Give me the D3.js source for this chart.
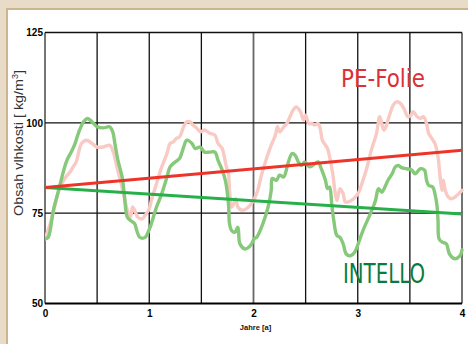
<!DOCTYPE html>
<html><head><meta charset="utf-8">
<script src="https://cdn.jsdelivr.net/npm/d3@7"></script>
<style>html,body{margin:0;padding:0;background:#e8dcc8;}svg{display:block;}</style>
</head><body>
<svg id="c" width="468" height="344"></svg>
<script>
// Data
const xTicks = [0, 1, 2, 3, 4];
const yTicks = [50, 75, 100, 125];
const xLabel = "Jahre [a]";
const seriesNames = ["PE-Folie", "INTELLO"];

const peT = [0,0.05,0.10,0.14,0.19,0.24,0.27,0.30,0.32,0.35,0.40,0.45,0.50,0.56,0.62,0.66,0.69,0.73,0.76,0.79,0.82,0.84,0.86,0.89,0.93,0.96,1.00,
  1.02,1.07,1.12,1.17,1.20,1.23,1.26,1.29,1.33,1.36,1.39,1.42,1.46,1.49,1.53,1.58,1.63,1.66,1.70,1.72,1.74,1.76,1.77,1.79,1.81,1.83,1.85,1.89,1.93,1.98,
  2.03,2.08,2.13,2.17,2.21,2.23,2.25,2.29,2.32,2.35,2.38,2.41,2.45,2.48,2.50,2.53,2.56,2.59,2.62,2.64,2.66,2.69,2.71,2.73,2.76,2.78,2.80,2.83,2.86,2.88,2.91,2.96,3.01,
  3.04,3.09,3.13,3.18,3.21,3.23,3.25,3.27,3.29,3.31,3.34,3.37,3.41,3.45,3.48,3.51,3.53,3.57,3.60,3.63,3.66,3.68,3.71,3.74,3.77,3.79,3.81,3.82,3.84,3.87,3.90,3.93,3.97,4.00];
const peV = [67.9,72.1,77.6,81.8,84.6,86.4,87.8,89.2,91.5,94.3,95.2,94.3,93.3,93.3,93.8,91.5,87.8,83.2,79.4,75.8,73.9,76.7,75.8,73.9,73.4,74.4,76.2,
  78.5,83.2,87.8,91.5,94.3,94.7,95.7,96.1,98.9,100.3,100.3,99.4,98.4,97.5,98.0,97.1,96.6,94.3,92.9,90.6,87.8,85.9,81.3,76.7,77.6,79.0,76.7,75.8,76.2,77.6,
  80.4,85.9,90.6,93.8,96.6,98.9,97.5,98.9,99.8,101.7,103.5,104.4,103.1,100.8,102.1,99.8,99.8,99.4,99.8,98.4,95.2,93.8,92.9,90.6,85.9,81.3,78.5,81.8,80.4,78.1,78.1,79.0,80.8,
  83.2,87.8,92.4,97.1,101.7,99.8,98.0,98.9,100.8,102.6,104.9,105.8,105.4,103.5,101.7,102.1,103.1,101.7,101.2,101.7,99.8,97.1,95.7,94.3,90.6,85.0,81.3,84.1,81.3,79.4,79.0,79.4,80.4,81.3];

const intT = [0,0.03,0.08,0.13,0.18,0.21,0.26,0.29,0.32,0.37,0.41,0.45,0.50,0.56,0.62,0.65,0.67,0.70,0.74,0.76,0.79,0.82,0.86,0.88,0.91,0.96,1.00,
  1.02,1.07,1.12,1.17,1.20,1.25,1.29,1.33,1.36,1.41,1.44,1.49,1.53,1.58,1.63,1.66,1.70,1.73,1.76,1.77,1.79,1.82,1.85,1.87,1.92,1.97,2.01,
  2.03,2.09,2.14,2.17,2.18,2.22,2.25,2.29,2.31,2.33,2.37,2.40,2.43,2.46,2.49,2.54,2.59,2.62,2.65,2.69,2.71,2.73,2.75,2.77,2.80,2.83,2.86,2.89,2.93,2.97,3.01,
  3.05,3.12,3.17,3.19,3.20,3.23,3.26,3.29,3.33,3.36,3.39,3.42,3.47,3.52,3.55,3.60,3.64,3.66,3.68,3.72,3.74,3.76,3.77,3.78,3.81,3.85,3.88,3.93,3.98,4.00];
const intV = [67.9,68.3,75.8,81.3,86.9,89.6,92.4,94.4,97.1,100.3,101.2,100.3,98.9,98.6,98.9,97.5,94.3,89.6,85.0,80.4,73.9,73.0,72.1,70.2,68.3,68.3,70.5,
  72.1,76.7,80.4,85.0,87.8,89.2,90.1,93.3,95.2,94.3,92.9,93.3,91.9,91.9,91.9,89.6,86.9,84.1,77.6,72.1,70.2,69.7,71.1,66.5,65.1,66.0,68.0,
  68.3,72.1,76.7,81.3,84.6,84.1,85.5,85.0,86.4,88.7,91.5,91.0,89.2,88.2,89.2,87.8,88.7,89.2,87.3,84.1,81.8,82.2,77.6,73.0,68.8,68.3,66.5,63.7,63.2,64.2,67.0,
  70.2,74.8,78.5,81.3,81.8,80.8,82.2,84.1,85.9,87.8,88.2,87.6,87.3,86.9,85.9,87.3,86.9,84.1,82.7,82.2,80.4,77.1,73.0,67.9,67.0,66.5,63.7,62.4,63.2,64.8];

const peTrendT = [0, 4];
const peTrendV = [82.1, 92.4];
const intTrendT = [0, 4];
const intTrendV = [82.1, 74.8];

// Layout
const svg = d3.select("#c");
const W = 468, H = 344;
const m = {left: 45, right: 462, top: 32.5, bottom: 303.5};

// frame
svg.append("rect").attr("x", 0).attr("y", 0).attr("width", W).attr("height", H).attr("fill", "#e8dcc8");
svg.append("rect").attr("x", 6).attr("y", 8).attr("width", W).attr("height", H).attr("fill", "#cbb48e");
svg.append("rect").attr("x", 8).attr("y", 10).attr("width", W).attr("height", H).attr("fill", "#ffffff");

const x = d3.scaleLinear().domain([0, 4]).range([m.left, m.right]);
const y = d3.scaleLinear().domain([50, 125]).range([m.bottom, m.top]);

// grid: vertical every 0.5
const vGrid = d3.range(0, 4.01, 0.5);
svg.append("g").selectAll("line").data(vGrid).join("line")
  .attr("x1", d => x(d)).attr("x2", d => x(d))
  .attr("y1", m.top).attr("y2", m.bottom)
  .attr("stroke", (d,i) => (i === 0 || i === 8 || i === 4) ? "#666" : "#111")
  .attr("stroke-width", (d,i) => (i === 0 || i === 8 || i === 4) ? 1.8 : 1.3);
svg.append("g").selectAll("line").data(yTicks).join("line")
  .attr("x1", m.left).attr("x2", m.right)
  .attr("y1", d => y(d)).attr("y2", d => y(d))
  .attr("stroke", d => d === 50 ? "#000" : "#111")
  .attr("stroke-width", d => d === 50 ? 2 : 1.3);

// clip
svg.append("clipPath").attr("id", "clip").append("rect")
  .attr("x", m.left).attr("y", m.top).attr("width", m.right - m.left + 2).attr("height", m.bottom - m.top);

const line = d3.line().x(d => x(d[0])).y(d => y(d[1])).curve(d3.curveCatmullRom.alpha(0.5));
const lineStraight = d3.line().x(d => x(d[0])).y(d => y(d[1]));

const g = svg.append("g").attr("clip-path", "url(#clip)");
g.append("path").datum(peT.map((t, i) => [t, peV[i]]))
  .attr("d", line).attr("fill", "none").attr("stroke", "#f9c9c4").attr("stroke-width", 3.4)
  .attr("stroke-linejoin", "round").attr("stroke-linecap", "round");
g.append("path").datum(intT.map((t, i) => [t, intV[i]]))
  .attr("d", line).attr("fill", "none").attr("stroke", "#86c97a").attr("stroke-width", 3.4)
  .attr("stroke-linejoin", "round").attr("stroke-linecap", "round");
g.append("path").datum(intTrendT.map((t, i) => [t, intTrendV[i]]))
  .attr("d", lineStraight).attr("fill", "none").attr("stroke", "#27b04a").attr("stroke-width", 3);
g.append("path").datum(peTrendT.map((t, i) => [t, peTrendV[i]]))
  .attr("d", lineStraight).attr("fill", "none").attr("stroke", "#ee3328").attr("stroke-width", 3);

// axes labels
const yAxis = d3.axisLeft(y).tickValues(yTicks).tickFormat(d3.format("d")).tickSize(0).tickPadding(2);
const ya = svg.append("g").attr("transform", `translate(${m.left},0)`).call(yAxis);
ya.select(".domain").remove();
ya.selectAll("text").attr("font-family", "Liberation Sans, Arial, sans-serif")
  .attr("font-weight", "bold").attr("font-size", 10).attr("fill", "#000");

const xAxis = d3.axisBottom(x).tickValues(xTicks).tickFormat(d3.format("d")).tickSize(0).tickPadding(6);
const xa = svg.append("g").attr("transform", `translate(0,${m.bottom})`).call(xAxis);
xa.select(".domain").remove();
xa.selectAll("text").attr("font-family", "Liberation Sans, Arial, sans-serif")
  .attr("font-weight", "bold").attr("font-size", 10).attr("fill", "#000");

svg.append("text").attr("x", x(2) + 2).attr("y", 330)
  .attr("text-anchor", "middle").attr("font-family", "Liberation Sans, Arial, sans-serif")
  .attr("font-weight", "bold").attr("font-size", 7.5).attr("fill", "#111").text(xLabel);

// y title (fit to the span it occupies in the reference)
const yt = svg.append("text")
  .attr("text-anchor", "middle").attr("font-family", "Liberation Sans, Arial, sans-serif")
  .attr("font-size", 13.5).attr("fill", "#333");
yt.append("tspan").text("Obsah vlhkosti [ kg/m");
yt.append("tspan").attr("dy", -5).attr("font-size", 8.5).text("3");
yt.append("tspan").attr("dy", 5).text("]");
const tw = yt.node().getBBox().width;
const sx = 146 / tw;
yt.attr("transform", `translate(23,143) rotate(-90) scale(${sx},1)`);

// series labels
svg.append("text").attr("x", 341).attr("y", 87)
  .attr("font-family", "Liberation Sans Narrow, DejaVu Sans Condensed, sans-serif")
  .attr("font-size", 25).attr("fill", "#d9303a")
  .attr("textLength", 84).attr("lengthAdjust", "spacingAndGlyphs").text(seriesNames[0]);
svg.append("text").attr("x", 343).attr("y", 283)
  .attr("font-family", "Liberation Sans Narrow, DejaVu Sans Condensed, sans-serif")
  .attr("font-size", 26).attr("fill", "#0b7a3e")
  .attr("textLength", 82).attr("lengthAdjust", "spacingAndGlyphs").text(seriesNames[1]);
</script>
</body></html>
